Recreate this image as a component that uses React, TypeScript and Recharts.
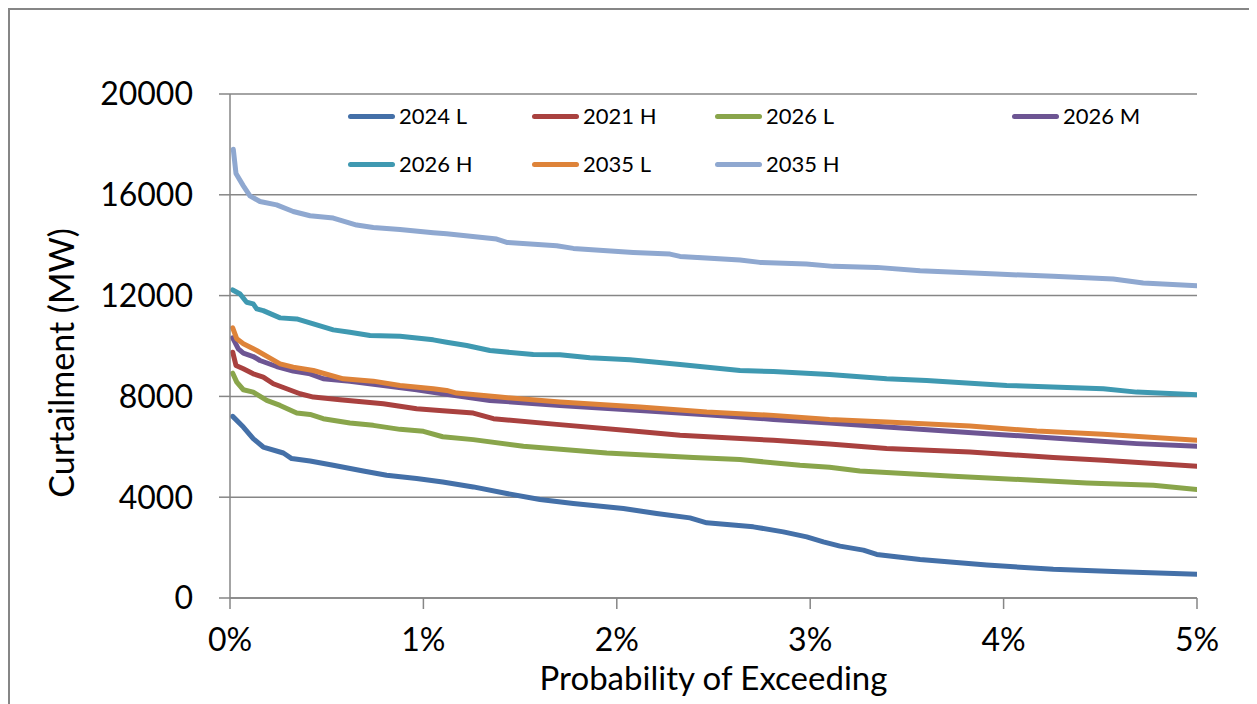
import React from 'react';
import { LineChart, Line, XAxis, YAxis, CartesianGrid, Legend } from 'recharts';

// [probability %, curtailment MW]
const s2024L: number[][] = [[0.014,7207],[0.069,6785],[0.12,6324],[0.172,5991],[0.276,5754],[0.319,5532],[0.414,5437],[0.534,5267],[0.689,5041],[0.81,4871],[0.965,4740],[1.1,4600],[1.258,4408],[1.431,4146],[1.603,3908],[1.775,3750],[2.034,3552],[2.206,3354],[2.378,3180],[2.465,2982],[2.706,2823],[2.861,2625],[2.982,2427],[3.068,2229],[3.154,2059],[3.275,1901],[3.344,1730],[3.568,1532],[3.913,1307],[4.257,1137],[4.602,1041],[5.0,939]];
const s2021H: number[][] = [[0.014,9754],[0.031,9227],[0.069,9095],[0.12,8897],[0.172,8765],[0.224,8501],[0.293,8303],[0.362,8106],[0.431,7972],[0.569,7868],[0.793,7709],[0.965,7512],[1.1,7430],[1.258,7338],[1.362,7116],[1.689,6890],[2.085,6625],[2.327,6455],[2.81,6257],[3.1,6110],[3.395,5928],[3.826,5794],[4.257,5572],[4.516,5465],[5.0,5227]];
const s2026L: number[][] = [[0.014,8922],[0.035,8566],[0.069,8264],[0.12,8170],[0.19,7841],[0.259,7643],[0.345,7338],[0.414,7286],[0.482,7116],[0.62,6942],[0.741,6851],[0.879,6692],[1.0,6613],[1.1,6400],[1.258,6285],[1.517,6019],[1.948,5754],[2.396,5572],[2.637,5492],[2.947,5267],[3.1,5190],[3.257,5041],[3.74,4831],[4.085,4700],[4.43,4566],[4.774,4475],[5.0,4305]];
const s2026M: number[][] = [[0.014,10324],[0.043,9888],[0.069,9714],[0.12,9583],[0.155,9425],[0.241,9187],[0.327,9002],[0.414,8897],[0.482,8699],[0.62,8605],[0.793,8435],[0.965,8264],[1.1,8106],[1.344,7841],[1.706,7643],[2.12,7445],[2.465,7274],[2.81,7088],[3.1,6940],[3.395,6784],[3.913,6522],[4.43,6257],[4.688,6126],[5.0,6019]];
const s2026H: number[][] = [[0.014,12224],[0.052,12066],[0.086,11735],[0.12,11670],[0.138,11472],[0.172,11405],[0.259,11116],[0.345,11076],[0.431,10878],[0.534,10640],[0.62,10546],[0.724,10415],[0.879,10388],[1.051,10244],[1.12,10150],[1.224,10019],[1.344,9821],[1.568,9662],[1.706,9649],[1.861,9530],[2.068,9451],[2.206,9358],[2.327,9266],[2.637,9029],[2.81,8989],[3.1,8870],[3.395,8699],[3.602,8633],[4.016,8435],[4.516,8303],[4.688,8170],[5.0,8065]];
const s2035L: number[][] = [[0.014,10720],[0.035,10284],[0.069,10086],[0.138,9821],[0.207,9516],[0.259,9293],[0.327,9161],[0.431,9029],[0.586,8699],[0.741,8605],[0.879,8435],[1.051,8303],[1.12,8237],[1.172,8131],[1.396,7972],[1.706,7774],[2.12,7576],[2.465,7378],[2.81,7247],[3.1,7088],[3.395,6982],[3.826,6823],[4.171,6625],[4.516,6494],[5.0,6257]];
const s2035H: number[][] = [[0.017,17808],[0.031,16842],[0.069,16355],[0.103,15959],[0.155,15733],[0.241,15602],[0.327,15337],[0.414,15167],[0.534,15075],[0.655,14798],[0.741,14705],[0.879,14626],[1.051,14494],[1.12,14450],[1.379,14243],[1.431,14111],[1.689,13979],[1.775,13873],[2.085,13714],[2.275,13648],[2.327,13555],[2.637,13411],[2.74,13318],[2.98,13252],[3.12,13160],[3.344,13120],[3.568,12989],[3.964,12857],[4.257,12765],[4.567,12660],[4.722,12501],[5.0,12395]];

const seriesNames = ['2024 L', '2021 H', '2026 L', '2026 M', '2026 H', '2035 L', '2035 H'];
const seriesColors = ['#4470A8', '#A9413F', '#89A54B', '#6D5593', '#3F99B1', '#DE8339', '#8FA8D0'];
const seriesValues = [s2024L, s2021H, s2026L, s2026M, s2026H, s2035L, s2035H];

const xTicks = [0, 1, 2, 3, 4, 5];
const yTicks = [0, 4000, 8000, 12000, 16000, 20000];

const toRows = (pts: number[][]) => pts.map(([x, y]) => ({ x, y }));

// legend layout (4 in row 1, 3 in row 2)
const legendCols = [338, 522, 705, 1002];
const legendRows = [106, 154];

const FONT = 'Lato, "Noto Sans", sans-serif';
const GRAY = '#868686';

const LegendContent = () => (
  <div style={{ position: 'relative', width: 1243, height: 200, fontFamily: FONT }}>
    {seriesNames.map((name, i) => {
      const col = i < 4 ? i : i - 4;
      const row = i < 4 ? 0 : 1;
      const left = legendCols[col];
      const top = legendRows[row];
      return (
        <div key={name} style={{ position: 'absolute', left, top: top - 15, height: 30, display: 'flex', alignItems: 'center', whiteSpace: 'nowrap' }}>
          <div style={{ width: 47, height: 5, borderRadius: 3, background: seriesColors[i] }} />
          <span style={{ marginLeft: 4, fontSize: 22, color: '#000', lineHeight: '30px' }}>{name}</span>
        </div>
      );
    })}
  </div>
);

const YLabel = (props: any) => {
  const vb = props.viewBox || { x: 0, y: 84, width: 220, height: 504 };
  const cx = vb.x + 50;
  const cy = vb.y + vb.height / 2 + 17;
  return (
    <text x={cx} y={cy} transform={`rotate(-90, ${cx}, ${cy})`} textAnchor="middle" dominantBaseline="central" fontSize={34} fill="#000" fontFamily={FONT}>
      Curtailment (MW)
    </text>
  );
};

const XLabel = (props: any) => {
  const vb = props.viewBox || { x: 220, y: 588, width: 967, height: 100 };
  const cx = vb.x + vb.width / 2;
  const cy = vb.y + 92;
  return (
    <text x={cx} y={cy} textAnchor="middle" fontSize={33} fill="#000" fontFamily={FONT}>
      Probability of Exceeding
    </text>
  );
};

export default function App() {
  return (
    <div style={{ fontFamily: FONT }}>
      <style>{`html,body{overflow:hidden}`}</style>
      <div style={{ position: 'relative', width: 1247, height: 710, boxSizing: 'border-box', border: `2px solid ${GRAY}`, background: '#fff' }}>
        <LineChart width={1243} height={700} margin={{ top: 84, right: 56, bottom: 12, left: 0 }}>
          <CartesianGrid vertical={false} stroke={GRAY} strokeWidth={1.5} />
          <XAxis
            type="number"
            dataKey="x"
            domain={[0, 5]}
            ticks={xTicks}
            tickFormatter={(v: number) => `${v}%`}
            height={100}
            tickSize={11}
            tickMargin={19}
            stroke={GRAY}
            strokeWidth={1.5}
            tick={{ fill: '#000', fontSize: 32, fontFamily: FONT }}
            allowDataOverflow
            label={<XLabel />}
          />
          <YAxis
            type="number"
            domain={[0, 20000]}
            ticks={yTicks}
            width={220}
            tickSize={11}
            tickMargin={26}
            stroke={GRAY}
            strokeWidth={1.5}
            tick={{ fill: '#000', fontSize: 32, fontFamily: FONT }}
            interval={0}
            label={<YLabel />}
          />
          <Legend
            layout="horizontal"
            verticalAlign="middle"
            align="center"
            wrapperStyle={{ left: 0, top: 0, width: 1243, height: 200 }}
            content={<LegendContent />}
          />
          {seriesNames.map((name, i) => (
            <Line
              key={name}
              name={name}
              data={toRows(seriesValues[i])}
              dataKey="y"
              type="linear"
              stroke={seriesColors[i]}
              strokeWidth={5}
              strokeLinecap="round"
              strokeLinejoin="round"
              dot={false}
              activeDot={false}
              isAnimationActive={false}
            />
          ))}
        </LineChart>
      </div>
    </div>
  );
}
